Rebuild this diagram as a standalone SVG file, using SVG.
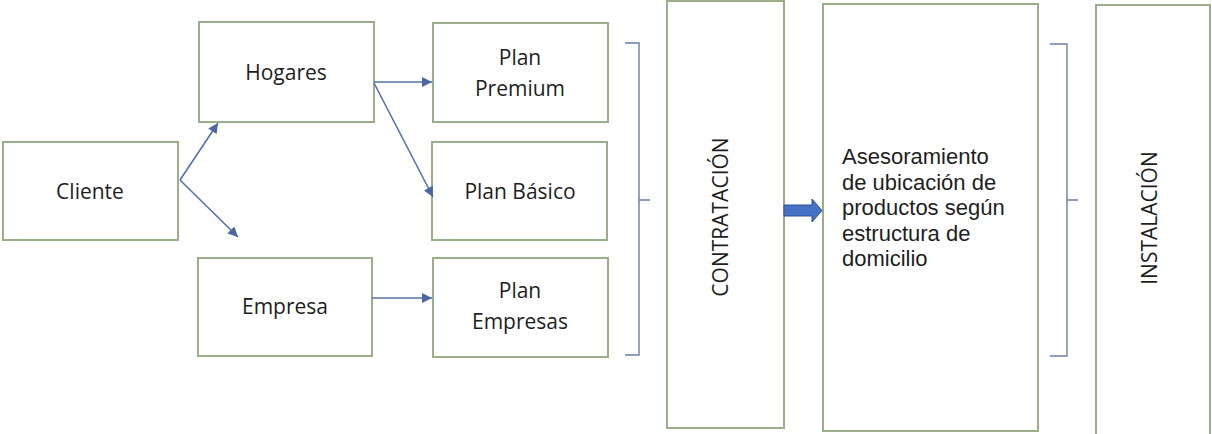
<svg xmlns="http://www.w3.org/2000/svg" width="1212" height="434" viewBox="0 0 1212 434">
<defs>
<style>
.box{fill:#fff;stroke:#9aae8a;stroke-width:2}
.lbl{font-family:"Open Sans","Liberation Sans",sans-serif;font-size:21px;fill:#1e1e1e;text-anchor:middle}
.txt{font-family:"Liberation Sans",Arial,sans-serif;font-size:22px;fill:#1e1e1e}
.con{fill:none;stroke:#5572a8;stroke-width:1.6}
.brk{fill:none;stroke:#6b7ea6;stroke-width:1.4}
</style>
<marker id="arr" viewBox="0 0 10 10" refX="10" refY="5" markerWidth="12" markerHeight="10" markerUnits="userSpaceOnUse" orient="auto">
<path d="M0,0 L10,5 L0,10 Z" fill="#4a66a3"/>
</marker>
</defs>
<rect width="1212" height="434" fill="#fff"/>
<g id="cliente"><rect class="box" x="3" y="142" width="175" height="98"/><text class="lbl" x="90" y="199">Cliente</text></g>
<g id="hogares"><rect class="box" x="199" y="22" width="175" height="100"/><text class="lbl" x="286" y="80">Hogares</text></g>
<g id="empresa"><rect class="box" x="198" y="258" width="174" height="98"/><text class="lbl" x="285" y="314">Empresa</text></g>
<g id="plan-premium"><rect class="box" x="433" y="23" width="175" height="99"/><text class="lbl" x="520" y="65">Plan</text><text class="lbl" x="520" y="96">Premium</text></g>
<g id="plan-basico"><rect class="box" x="432" y="142" width="175" height="98"/><text class="lbl" x="520" y="199">Plan Básico</text></g>
<g id="plan-empresas"><rect class="box" x="433" y="258" width="175" height="99"/><text class="lbl" x="520" y="298">Plan</text><text class="lbl" x="520" y="329">Empresas</text></g>
<g id="contratacion"><rect class="box" x="667" y="1" width="117" height="427"/><text class="lbl" transform="translate(728,217) rotate(-90)">CONTRATACIÓN</text></g>
<g id="asesoramiento"><rect class="box" x="823" y="4" width="215" height="427"/>
<text class="txt" x="842" y="164">Asesoramiento</text>
<text class="txt" x="842" y="189.5">de ubicación de</text>
<text class="txt" x="842" y="215">productos según</text>
<text class="txt" x="842" y="240.5">estructura de</text>
<text class="txt" x="842" y="266">domicilio</text></g>
<g id="instalacion"><rect class="box" x="1096" y="5" width="114" height="440"/><text class="lbl" transform="translate(1157,218) rotate(-90)">INSTALACIÓN</text></g>
<g id="connectors">
<path class="con" d="M180,180 L218,123" marker-end="url(#arr)"/>
<path class="con" d="M180,180 L238,237" marker-end="url(#arr)"/>
<path class="con" d="M374,82 L432,82" marker-end="url(#arr)"/>
<path class="con" d="M374,83 L433,197" marker-end="url(#arr)"/>
<path class="con" d="M372,298 L432,298" marker-end="url(#arr)"/>
<path class="brk" d="M625,43 H639 V355 H625 M639,200 H650"/>
<path class="brk" d="M1050,44 H1067 V356 H1050 M1067,200 H1078"/>
<path d="M784,205 H812 V199 L822,210.5 L812,222 V216 H784 Z" fill="#4472c4" stroke="#2f528f" stroke-width="1"/>
</g>
</svg>
